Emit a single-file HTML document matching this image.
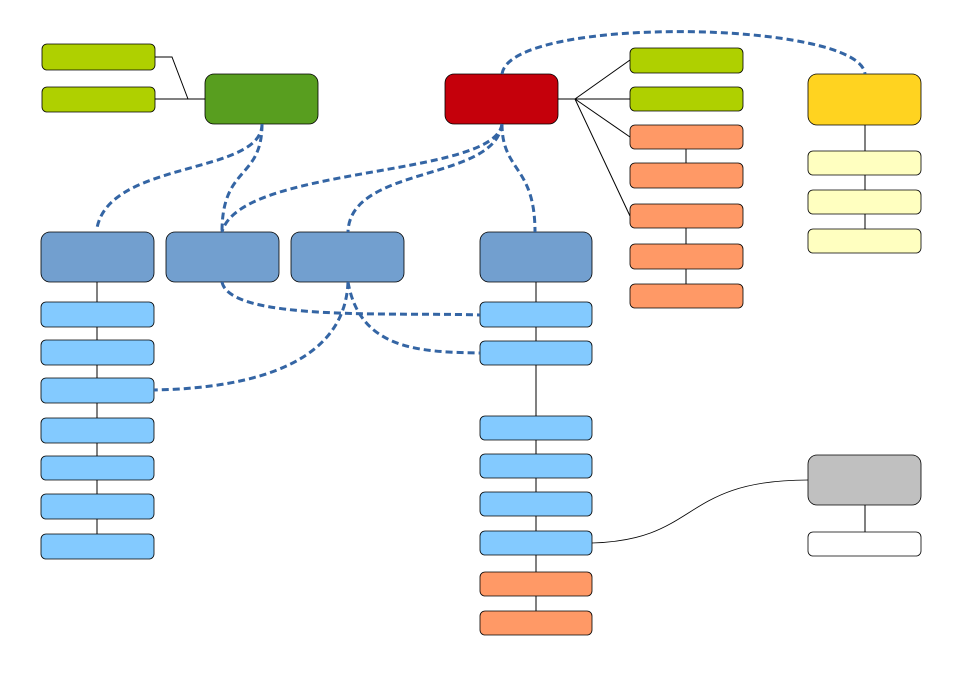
<!DOCTYPE html>
<html><head><meta charset="utf-8"><style>html,body{margin:0;padding:0;background:#fff}svg{display:block}</style></head>
<body>
<svg width="966" height="683" viewBox="0 0 966 683" xmlns="http://www.w3.org/2000/svg">
<g stroke="#000" stroke-width="1" fill="none">
<polyline points="155,57 172,57 188,99"/>
<line x1="155" y1="99" x2="205" y2="99"/>
<line x1="558" y1="99" x2="575" y2="99"/>
<line x1="575" y1="99" x2="630" y2="60"/>
<line x1="575" y1="99" x2="630" y2="99"/>
<line x1="575" y1="99" x2="630" y2="137"/>
<line x1="575" y1="99" x2="630" y2="216"/>
<line x1="686" y1="149" x2="686" y2="163"/>
<line x1="686" y1="228" x2="686" y2="284"/>
<line x1="865" y1="125" x2="865" y2="253"/>
<line x1="97" y1="282" x2="97" y2="559"/>
<line x1="536" y1="282" x2="536" y2="635"/>
<line x1="865" y1="505" x2="865" y2="532"/>
<path d="M592,543 C700,540 680,480 808,480" stroke-width="0.8"/>
</g>
<g stroke="#000" stroke-width="0.8">
<rect x="42" y="44" width="113" height="26" rx="5" fill="#afd000"/>
<rect x="42" y="87" width="113" height="25" rx="5" fill="#afd000"/>
<rect x="205" y="74" width="113" height="50" rx="9" fill="#589e1f"/>
<rect x="445" y="74" width="113" height="50" rx="9" fill="#c5000b"/>
<rect x="630" y="48" width="113" height="25" rx="5" fill="#afd000"/>
<rect x="630" y="87" width="113" height="24" rx="5" fill="#afd000"/>
<g fill="#ff9966">
<rect x="630" y="125" width="113" height="24" rx="5"/>
<rect x="630" y="163" width="113" height="25" rx="5"/>
<rect x="630" y="204" width="113" height="24" rx="5"/>
<rect x="630" y="244" width="113" height="25" rx="5"/>
<rect x="630" y="284" width="113" height="24" rx="5"/>
<rect x="480" y="572" width="112" height="24" rx="5"/>
<rect x="480" y="611" width="112" height="24" rx="5"/>
</g>
<rect x="808" y="74" width="113" height="51" rx="9" fill="#ffd320"/>
<g fill="#ffffc0">
<rect x="808" y="151" width="113" height="24" rx="5"/>
<rect x="808" y="190" width="113" height="24" rx="5"/>
<rect x="808" y="229" width="113" height="24" rx="5"/>
</g>
<g fill="#729fcf">
<rect x="41" y="232" width="113" height="50" rx="9"/>
<rect x="166" y="232" width="113" height="50" rx="9"/>
<rect x="291" y="232" width="113" height="50" rx="9"/>
<rect x="480" y="232" width="112" height="50" rx="9"/>
</g>
<g fill="#83caff">
<rect x="41" y="302" width="113" height="25" rx="5"/>
<rect x="41" y="340" width="113" height="25" rx="5"/>
<rect x="41" y="378" width="113" height="25" rx="5"/>
<rect x="41" y="418" width="113" height="25" rx="5"/>
<rect x="41" y="456" width="113" height="24" rx="5"/>
<rect x="41" y="494" width="113" height="25" rx="5"/>
<rect x="41" y="534" width="113" height="25" rx="5"/>
<rect x="480" y="302" width="112" height="25" rx="5"/>
<rect x="480" y="341" width="112" height="24" rx="5"/>
<rect x="480" y="416" width="112" height="24" rx="5"/>
<rect x="480" y="454" width="112" height="24" rx="5"/>
<rect x="480" y="492" width="112" height="24" rx="5"/>
<rect x="480" y="531" width="112" height="24" rx="5"/>
</g>
<rect x="808" y="455" width="113" height="50" rx="9" fill="#c0c0c0"/>
<rect x="808" y="532" width="113" height="24" rx="5" fill="#fff"/>
</g>
<g stroke="#3465a4" stroke-width="3" fill="none" stroke-dasharray="7,4">
<path d="M262,124 C262,175 110,160 97,228"/>
<path d="M262,124 C262,180 222,165 222,232"/>
<path d="M222,282 C230,322 400,312 480,315"/>
<path d="M502,124 C495,178 240,165 222,232"/>
<path d="M502,124 C495,182 350,165 348,232"/>
<path d="M348,282 C345,360 260,388 154,390"/>
<path d="M348,282 C360,350 420,352 480,353"/>
<path d="M502,124 C502,172 535,165 535,232"/>
<path d="M502,74 C510,15 860,20 865,74"/>
</g>
</svg>
</body></html>
